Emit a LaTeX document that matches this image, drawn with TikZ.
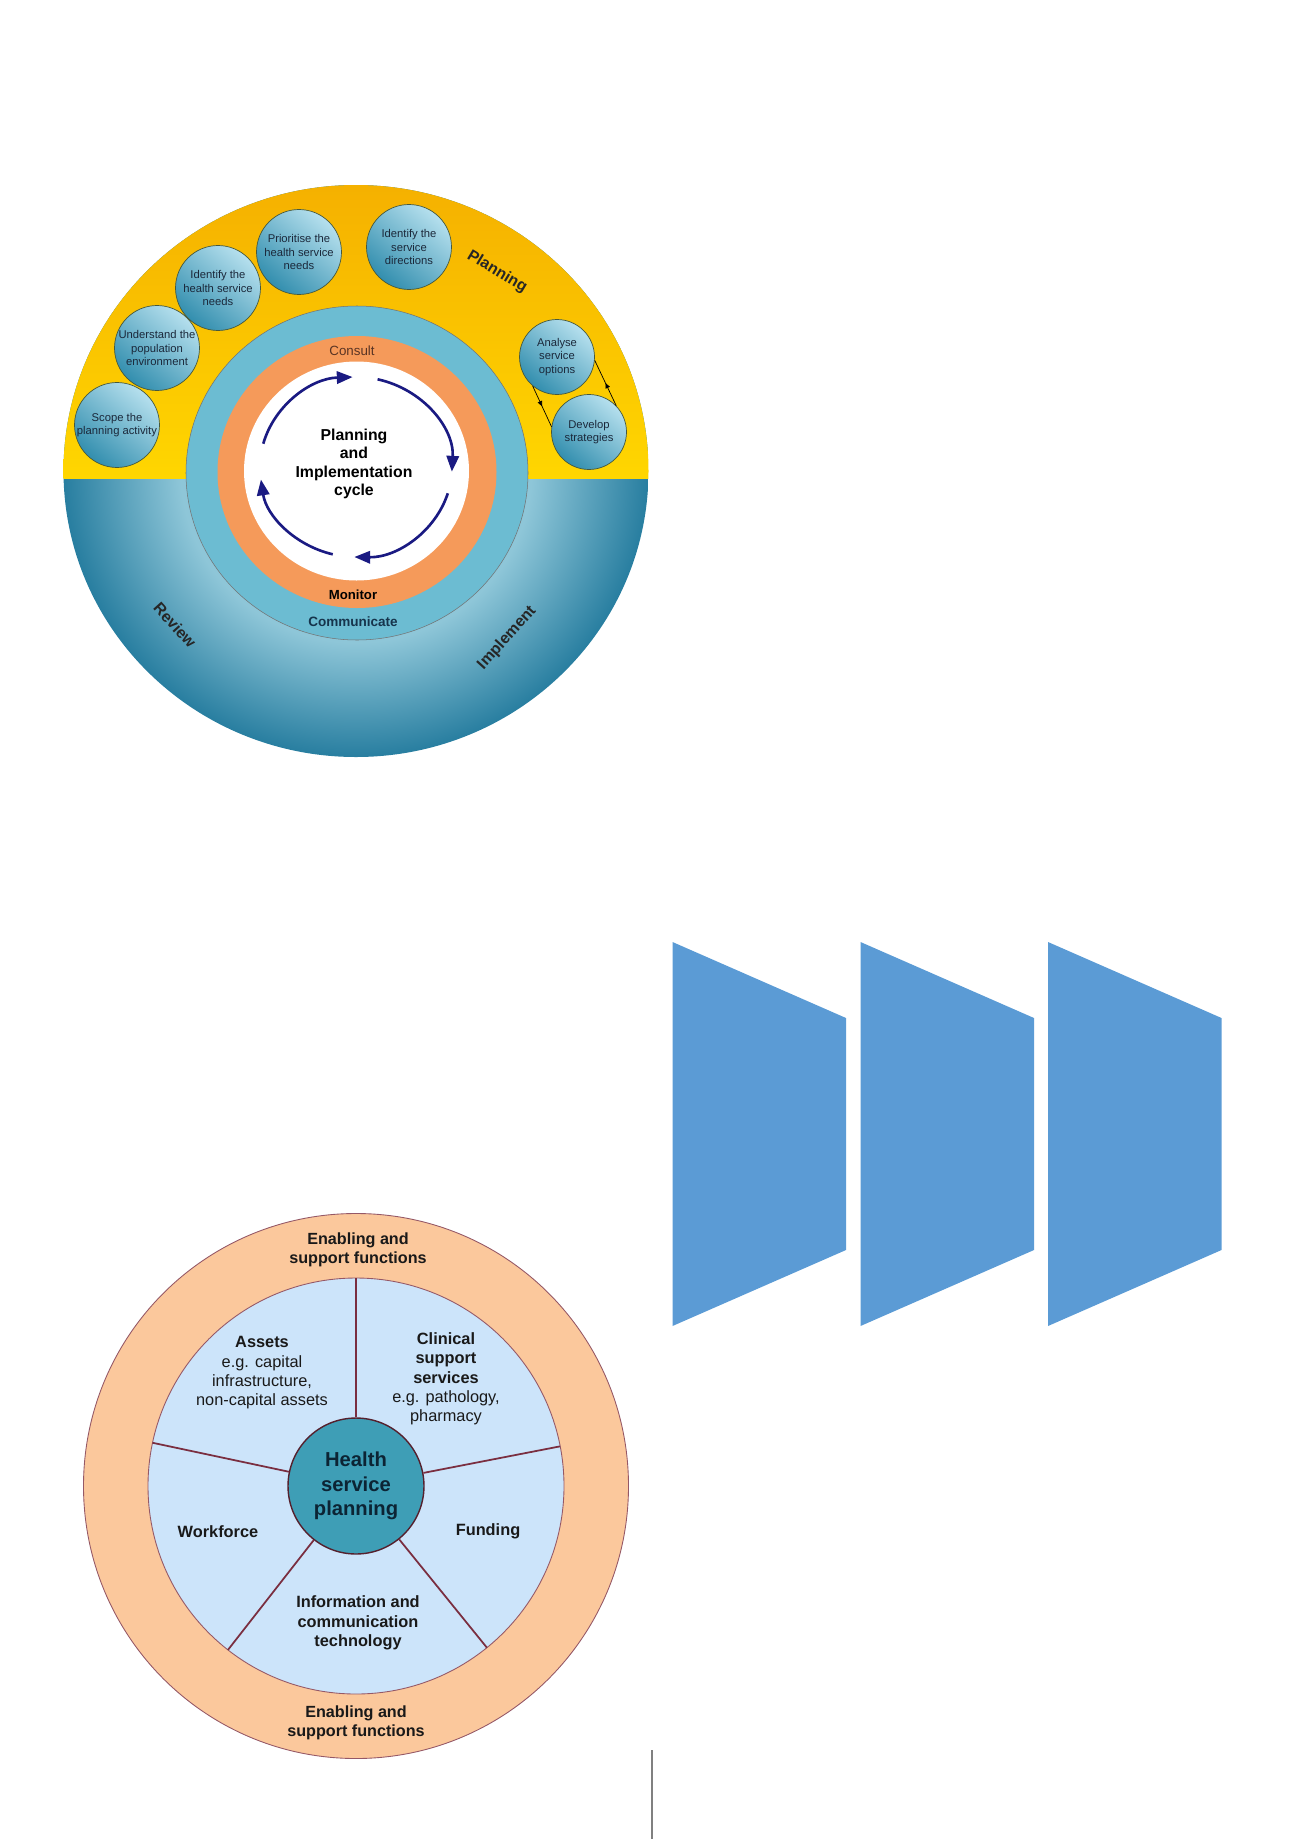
\documentclass[tikz,border=0pt]{standalone}
\usepackage{fontspec}
\setmainfont{Liberation Sans}
\usetikzlibrary{arrows.meta,positioning,calc,decorations.markings,shapes}

\definecolor{goldtop}{RGB}{245,176,0}
\definecolor{goldlow}{RGB}{255,214,0}
\definecolor{teallt}{RGB}{142,198,216}
\definecolor{tealdk}{RGB}{40,126,160}
\definecolor{ringblue}{RGB}{108,188,210}
\definecolor{ringorange}{RGB}{245,154,90}
\definecolor{cyclenavy}{RGB}{26,26,130}
\definecolor{bublt}{RGB}{182,224,238}
\definecolor{bubdk}{RGB}{50,142,174}
\definecolor{bubline}{RGB}{70,88,60}
\definecolor{bubtext}{RGB}{27,40,58}
\definecolor{consultbrown}{RGB}{90,52,36}
\definecolor{commteal}{RGB}{22,52,76}
\definecolor{peach}{RGB}{251,200,156}
\definecolor{paleblue}{RGB}{204,228,250}
\definecolor{maroon}{RGB}{122,46,64}
\definecolor{hubteal}{RGB}{62,158,182}
\definecolor{hubtext}{RGB}{12,36,52}
\definecolor{chevblue}{RGB}{91,155,213}

\pgfdeclareradialshading{tealdisc}{\pgfpoint{0bp}{0bp}}{color(0bp)=(teallt); color(15bp)=(teallt); color(25bp)=(tealdk); color(50bp)=(tealdk)}

\begin{document}
\begin{tikzpicture}[x=0.02cm,y=0.02cm,
    stage/.style={circle,draw=bubline,line width=0.4pt,minimum size=1.7cm,inner sep=0pt,
      top color=bublt,bottom color=bubdk,shading angle=-40,
      font=\fontsize{6.4}{7.6}\selectfont,text=bubtext,align=center},
    phase/.style={font=\bfseries\fontsize{9}{11}\selectfont,text=black!85},
    cycarrow/.style={cyclenavy,line width=1.5pt,-{Triangle[length=9pt,width=7pt]}},
    loopline/.style={line width=0.4pt,postaction={decorate},
      decoration={markings,mark=at position 0.5 with {\arrow{Triangle[length=3pt,width=2.6pt]}}}},
    sector/.style={font=\fontsize{9.3}{11}\selectfont,align=center,text=black!90},
    spoke/.style={maroon,line width=1pt}]
    \useasboundingbox (0,0) rectangle (1300,-1839);

    % Planning disc: teal below, gold above
    \shade[shading=tealdisc] (356,-471) ellipse [x radius=292.5, y radius=286];
    \begin{scope}
        \clip (356,-471) ellipse [x radius=292.5, y radius=286];
        \shade[top color=goldtop,bottom color=goldlow] (60,-180) rectangle (652,-478);
    \end{scope}

    % Rings
    \filldraw[fill=ringblue,draw=black!55,line width=0.3pt] (357,-473) ellipse [x radius=171, y radius=167];
    \fill[ringorange] (357,-472) ellipse [x radius=139.5, y radius=136];
    \fill[white] (356.5,-471) ellipse [x radius=112.5, y radius=109.5];

    % Cycle arrows
    \coordinate (cyc) at (356,-467);
    \draw[cycarrow] ($(cyc)+(165:96 and 90)$) arc[start angle=165,end angle=92,x radius=96,y radius=90];
    \draw[cycarrow] ($(cyc)+(77:96 and 90)$) arc[start angle=77,end angle=-3,x radius=96,y radius=90];
    \draw[cycarrow] ($(cyc)+(-17:96 and 90)$) arc[start angle=-17,end angle=-91,x radius=96,y radius=90];
    \draw[cycarrow] ($(cyc)+(-104:96 and 90)$) arc[start angle=-104,end angle=-172,x radius=96,y radius=90];

    \node[font=\bfseries\fontsize{9}{10.5}\selectfont,align=center] (cyctext) at (354,-464) {Planning\\and\\Implementation\\cycle};
    \node[font=\fontsize{7.6}{9}\selectfont,text=consultbrown] (consult) at (352,-351) {Consult};
    \node[font=\bfseries\fontsize{7.5}{9}\selectfont] (monitor) at (353,-595) {Monitor};
    \node[font=\bfseries\fontsize{7.7}{9}\selectfont,text=commteal] (communicate) at (353,-622) {Communicate};

    % Phase labels
    \node[phase,rotate=-31] (planning) at (497,-272) {Planning};
    \node[phase,rotate=-48] (review) at (175,-625) {Review};
    \node[phase,rotate=48] (implement) at (507,-638) {Implement};

    % Planning steps
    \node[stage] (scope) at (117,-425) {Scope the\\planning activity};
    \node[stage] (population) at (157,-348) {Understand the\\population\\environment};
    \node[stage] (needs) at (218,-288) {Identify the\\health service\\needs};
    \node[stage] (prioritise) at (299,-252) {Prioritise the\\health service\\needs};
    \node[stage] (directions) at (409,-247) {Identify the\\service\\directions};
    \node[stage,minimum size=1.5cm] (options) at (557,-357) {Analyse\\service\\options};
    \node[stage,minimum size=1.5cm] (strategies) at (589,-432) {Develop\\strategies};

    \draw[loopline] (options.230) -- (strategies.172);
    \draw[loopline] (strategies.44) -- (options.-5);

    % Step shapes
    \fill[chevblue] (672.5,-942) -- (846,-1018) -- (846,-1250) -- (672.5,-1326) -- cycle;
    \fill[chevblue] (860.5,-942) -- (1034,-1018) -- (1034,-1250) -- (860.5,-1326) -- cycle;
    \fill[chevblue] (1048,-942) -- (1221.5,-1018) -- (1221.5,-1250) -- (1048,-1326) -- cycle;

    % Health service planning wheel
    \coordinate (hub) at (356,-1486);
    \filldraw[fill=peach,draw=maroon!80,line width=0.5pt] (hub) circle[radius=272.5];
    \filldraw[fill=paleblue,draw=maroon!80,line width=0.5pt] (hub) circle[radius=208];
    \node[circle,fill=hubteal,draw=maroon!70!black,line width=0.8pt,minimum size=2.72cm,inner sep=0pt,
        font=\bfseries\fontsize{11.5}{14}\selectfont,text=hubtext,align=center] (hsp) at (hub) {Health\\service\\planning};
    \foreach \a in {90,168,232,309,11}
        \draw[spoke] (hsp.\a) -- ($(hub)+(\a:208)$);

    \node[sector,font=\bfseries\fontsize{9.2}{11}\selectfont] (enabletop) at (358,-1250) {Enabling and\\support functions};
    \node[sector,font=\bfseries\fontsize{9.2}{11}\selectfont] (enablebot) at (356,-1723) {Enabling and\\support functions};
    \node[sector] (assets) at (262,-1373) {\textbf{Assets}\\e.g. capital\\infrastructure,\\non-capital assets};
    \node[sector] (clinical) at (446,-1379) {\textbf{Clinical}\\\textbf{support}\\\textbf{services}\\e.g. pathology,\\pharmacy};
    \node[sector,font=\bfseries\fontsize{9.3}{11}\selectfont] (workforce) at (218,-1532) {Workforce};
    \node[sector,font=\bfseries\fontsize{9.3}{11}\selectfont] (funding) at (488,-1531) {Funding};
    \node[sector,font=\bfseries\fontsize{9.3}{11}\selectfont] (ict) at (358,-1623) {Information and\\communication\\technology};

    % Page rule
    \draw[gray,line width=0.75pt] (652,-1750) -- (652,-1839);
\end{tikzpicture}
\end{document}
